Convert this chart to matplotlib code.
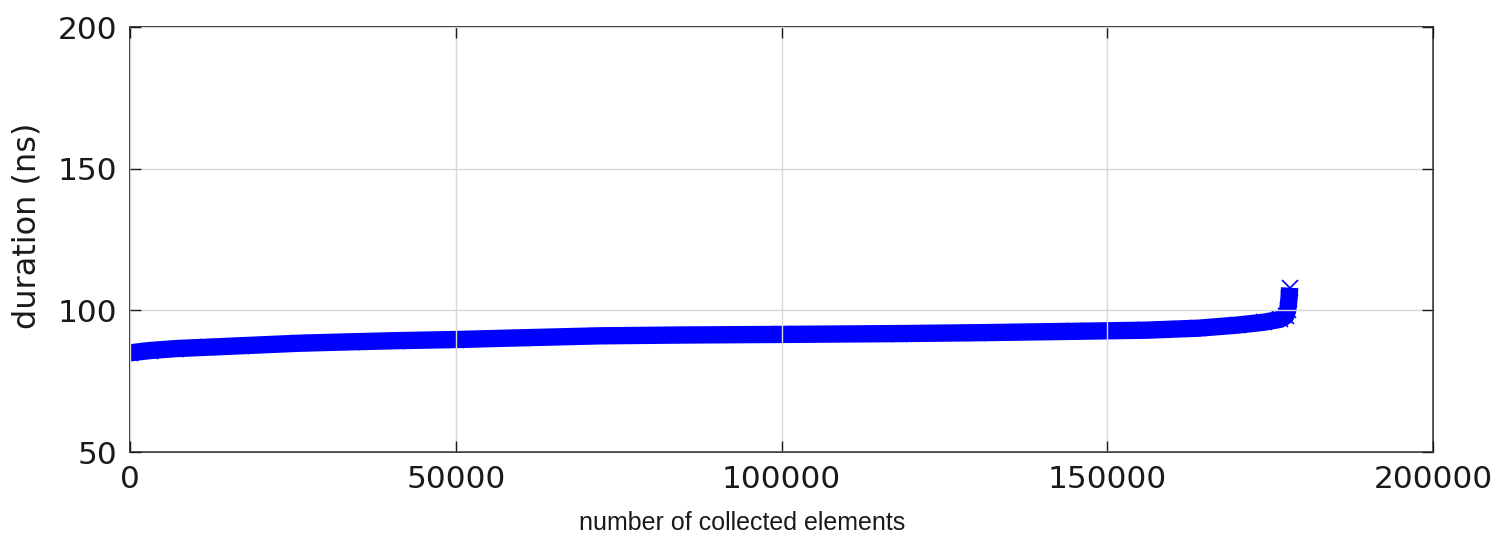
import matplotlib
matplotlib.use("Agg")
import matplotlib.pyplot as plt

# sorted durations (index, ns)
elements = [0, 3000, 7000, 12000, 17000, 26000, 34000, 41000, 50000, 60000,
            72000, 85000, 100000, 118000, 130000, 145000, 156000, 164000,
            170000, 174000, 176500, 177400, 177700, 177900, 178000]
duration = [85.0, 85.8, 86.5, 87.0, 87.5, 88.4, 88.9, 89.3, 89.7, 90.3,
            91.0, 91.3, 91.5, 91.8, 92.1, 92.6, 93.0, 93.7,
            94.8, 95.8, 96.8, 98.0, 100.0, 104.0, 108.0]

xticks = [0, 50000, 100000, 150000, 200000]
yticks = [50, 100, 150, 200]

fig = plt.figure(figsize=(15, 5.36), dpi=100)
ax = fig.add_axes([0.0867, 0.1567, 0.9553 - 0.0867, 0.9496 - 0.1567])

# thick line gives the solid band of overlapping 'x' markers
ax.plot(elements, duration, color='blue', linestyle='-', linewidth=12.5,
        solid_capstyle='butt', zorder=2)
ax.plot(elements, duration, color='blue', linestyle='none', marker='x',
        markersize=11, markeredgewidth=1.2, zorder=2)

ax.set_xlim(0, 200000)
ax.set_ylim(50, 200)
ax.set_xticks(xticks)
ax.set_yticks(yticks)

ax.grid(True, color='#d8d8d8', linestyle='-', linewidth=1.0, zorder=3)
ax.set_axisbelow(False)

ax.tick_params(direction='in', length=8, width=1, top=True, right=True,
               labelsize=22.5, pad=9, colors='#1a1a1a')
for s in ax.spines.values():
    s.set_linewidth(1.3)
    s.set_color('#333333')

ax.set_ylabel("duration (ns)", fontsize=23, color='#1a1a1a')
ax.yaxis.set_label_coords(-0.067, 0.532)
ax.set_xlabel("number of collected elements", fontsize=18,
              family='Liberation Sans', color='#1a1a1a')
ax.xaxis.set_label_coords(0.4697, -0.138)

fig.savefig("out.png", dpi=100)
